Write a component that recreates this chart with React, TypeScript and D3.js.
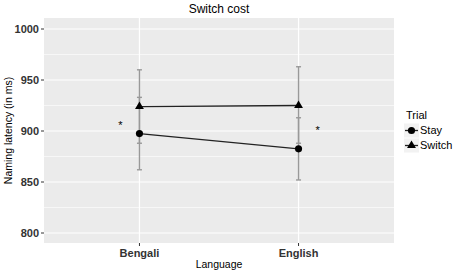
import React from "react";
import * as d3 from "d3";

const languages = ["Bengali", "English"];
const trials = ["Stay", "Switch"];
const stayMean = [897.5, 882.5];
const stayLow = [862, 852];
const stayHigh = [933, 913];
const switchMean = [924, 925];
const switchLow = [888, 888];
const switchHigh = [960, 963];
const yTicks = [800, 850, 900, 950, 1000];
const yMinor = [825, 875, 925, 975];
const starX = [0.88, 2.12];
const starY = [906, 901];

const W = 459, H = 273;
const panel = { l: 44, r: 394, t: 18, b: 243 };
const FONT = "Liberation Sans, Arial, Helvetica, sans-serif";

export default function App() {
  const x = d3.scaleLinear().domain([0.4, 2.6]).range([panel.l, panel.r]);
  const y = d3.scaleLinear().domain([790.2, 1010.8]).range([panel.b, panel.t]);
  const series = [
    { name: trials[0], mean: stayMean, lo: stayLow, hi: stayHigh, shape: d3.symbolCircle },
    { name: trials[1], mean: switchMean, lo: switchLow, hi: switchHigh, shape: d3.symbolTriangle },
  ];
  const line = d3.line<number>().x((_, i) => x(i + 1)).y((d) => y(d));
  const sym = (s: any) => d3.symbol().type(s).size(s === d3.symbolCircle ? 40 : 34)()!;
  return (
    <svg width={W} height={H} style={{ position: "absolute", left: 0, top: 0, background: "#fff" }} fontFamily={FONT}>
      <rect x={panel.l} y={panel.t} width={panel.r - panel.l} height={panel.b - panel.t} fill="#EBEBEB" />
      {yMinor.map((v) => (
        <line key={"m" + v} x1={panel.l} x2={panel.r} y1={y(v)} y2={y(v)} stroke="#fff" strokeWidth={0.6} />
      ))}
      {yTicks.map((v) => (
        <line key={"g" + v} x1={panel.l} x2={panel.r} y1={y(v)} y2={y(v)} stroke="#fff" strokeWidth={1.2} />
      ))}
      {languages.map((c, i) => (
        <line key={"v" + c} x1={x(i + 1)} x2={x(i + 1)} y1={panel.t} y2={panel.b} stroke="#fff" strokeWidth={1.2} />
      ))}
      {series.map((s) =>
        languages.map((c, i) => (
          <g key={s.name + c} stroke="#999" strokeWidth={1.4}>
            <line x1={x(i + 1)} x2={x(i + 1)} y1={y(s.lo[i])} y2={y(s.hi[i])} />
            <line x1={x(i + 1) - 2.5} x2={x(i + 1) + 2.5} y1={y(s.lo[i])} y2={y(s.lo[i])} />
            <line x1={x(i + 1) - 2.5} x2={x(i + 1) + 2.5} y1={y(s.hi[i])} y2={y(s.hi[i])} />
          </g>
        ))
      )}
      {series.map((s) => (
        <path key={"l" + s.name} d={line(s.mean)!} fill="none" stroke="#222" strokeWidth={1.3} />
      ))}
      {series.map((s) =>
        s.mean.map((v, i) => (
          <path key={"p" + s.name + i} d={sym(s.shape)} transform={`translate(${x(i + 1)},${y(v)})`} fill="#000" />
        ))
      )}
      {starX.map((sx, i) => (
        <text key={"s" + i} x={x(sx)} y={y(starY[i]) + 4} fontSize={11} textAnchor="middle" fill="#000">*</text>
      ))}
      {yTicks.map((v) => (
        <g key={"t" + v}>
          <line x1={panel.l - 3} x2={panel.l} y1={y(v)} y2={y(v)} stroke="#333" strokeWidth={1} />
          <text x={panel.l - 5} y={y(v)} dy="0.35em" textAnchor="end" fontSize={11} fontWeight="bold" fill="#333">{v}</text>
        </g>
      ))}
      {languages.map((c, i) => (
        <g key={"xt" + c}>
          <line x1={x(i + 1)} x2={x(i + 1)} y1={panel.b} y2={panel.b + 3} stroke="#333" strokeWidth={1} />
          <text x={x(i + 1)} y={panel.b + 14} textAnchor="middle" fontSize={11} fontWeight="bold" fill="#333">{c}</text>
        </g>
      ))}
      <text x={(panel.l + panel.r) / 2} y={268} textAnchor="middle" fontSize={10.5} fill="#000">Language</text>
      <text transform={`translate(12,${(panel.t + panel.b) / 2}) rotate(-90)`} textAnchor="middle" fontSize={10.5} fill="#000">Naming latency (in ms)</text>
      <text x={(panel.l + panel.r) / 2} y={12.5} textAnchor="middle" fontSize={12} fill="#000">Switch cost</text>
      <text x={406} y={119} fontSize={11} fill="#000">Trial</text>
      {series.map((s, i) => {
        const cy = 130.5 + i * 15;
        return (
          <g key={"lg" + s.name}>
            <rect x={404} y={cy - 7} width={15} height={14} fill="#F2F2F2" />
            <line x1={405} x2={418} y1={cy} y2={cy} stroke="#222" strokeWidth={1.3} />
            <path d={sym(s.shape)} transform={`translate(411.5,${cy})`} fill="#000" />
            <text x={420} y={cy} dy="0.35em" fontSize={11} fill="#000">{s.name}</text>
          </g>
        );
      })}
    </svg>
  );
}
